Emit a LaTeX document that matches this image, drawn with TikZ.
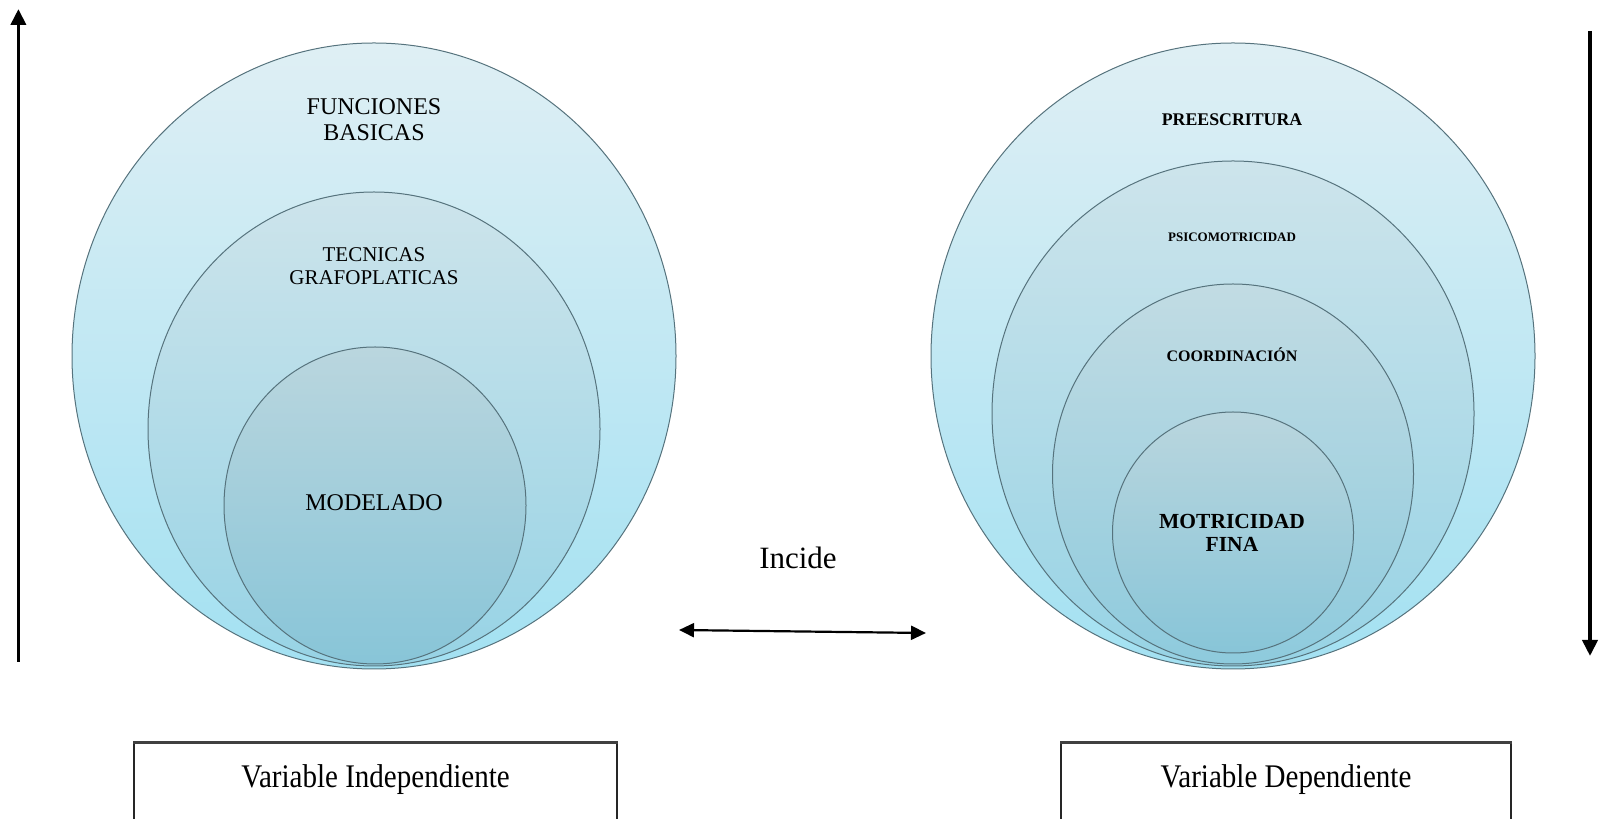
\documentclass[tikz,border=0pt]{standalone}
\usepackage{fontspec}
\setmainfont{Liberation Serif}
\usetikzlibrary{shapes.geometric,arrows.meta}
\definecolor{outA}{HTML}{DFEFF4}
\definecolor{outB}{HTML}{A3E1F2}
\definecolor{midA}{HTML}{CDE4EB}
\definecolor{midB}{HTML}{97D3E5}
\definecolor{inA}{HTML}{BAD6DE}
\definecolor{inB}{HTML}{88C5D8}
\definecolor{ringline}{HTML}{56737D}
\tikzset{
  ring/.style={ellipse, draw=ringline, line width=1pt, inner sep=0pt},
  lbl/.style={align=center, inner sep=0pt, text=black},
  varbox/.style={rectangle, draw=black!85, line width=1.4pt, minimum width=483pt, minimum height=76pt, inner sep=0pt},
  bigarrow/.style={line width=3.8pt, -{Triangle[length=16pt,width=15pt]}},
  linkarrow/.style={line width=2.2pt, {Triangle[length=15pt,width=14pt]}-{Triangle[length=15pt,width=14pt]}}
}
\begin{document}
\begin{tikzpicture}[x=1pt,y=1pt]
\useasboundingbox (0,0) rectangle (1601,819);
% left rings
\node[ring, minimum width=604pt, minimum height=626pt, top color=outA, bottom color=outB] (L1) at (374,463) {};
\node[ring, minimum width=452pt, minimum height=474pt, top color=midA, bottom color=midB] (L2) at (374,390) {};
\node[ring, minimum width=302pt, minimum height=317pt, top color=inA, bottom color=inB] (L3) at (375,313.5) {};
% right rings
\node[ring, minimum width=604pt, minimum height=626pt, top color=outA, bottom color=outB] (R1) at (1233,463) {};
\node[ring, minimum width=482pt, minimum height=505pt, top color=midA, bottom color=midB] (R2) at (1233,405.5) {};
\node[ring, minimum width=361pt, minimum height=380pt, top color=inA!60!midA, bottom color=inB!60!midB] (R3) at (1233,345) {};
\node[ring, minimum width=241pt, minimum height=241pt, top color=inA, bottom color=inB] (R4) at (1233,286.5) {};
% labels
\node[lbl, font=\fontsize{24}{26}\selectfont] (tFun) at (374,699) {FUNCIONES\\BASICAS};
\node[lbl, font=\fontsize{21}{23}\selectfont] (tTec) at (374,553) {TECNICAS\\GRAFOPLATICAS};
\node[lbl, font=\fontsize{24}{26}\selectfont] (tMod) at (374,316) {MODELADO};
\node[lbl, font=\fontsize{17.8}{20}\selectfont\bfseries] (tPre) at (1232,699.5) {PREESCRITURA};
\node[lbl, font=\fontsize{13}{15}\selectfont\bfseries] (tPsi) at (1232,582) {PSICOMOTRICIDAD};
\node[lbl, font=\fontsize{16}{18}\selectfont\bfseries] (tCoo) at (1232,464) {COORDINACIÓN};
\node[lbl, font=\fontsize{21.5}{22.5}\selectfont\bfseries] (tMot) at (1232,286) {MOTRICIDAD\\FINA};
% side arrows
\coordinate (la0) at (18.4,157);
\coordinate (la1) at (18.4,810);
\draw[bigarrow] (la0) -- (la1);
\coordinate (ra0) at (1590,788);
\coordinate (ra1) at (1590,163);
\draw[bigarrow] (ra0) -- (ra1);
% link
\node[lbl, font=\fontsize{31}{33}\selectfont] (inc) at (798,261) {Incide};
\coordinate (lk0) at (679,189);
\coordinate (lk1) at (926,186);
\draw[linkarrow] (lk0) -- (lk1);
% variable boxes
\node[varbox] (vi) at (375.5,37.5) {\raisebox{11pt}{\scalebox{0.88}[1]{\fontsize{33}{35}\selectfont Variable Independiente}}};
\node[varbox, minimum width=450pt] (vd) at (1286,37.5) {\raisebox{11pt}{\scalebox{0.88}[1]{\fontsize{33}{35}\selectfont Variable Dependiente}}};
\draw[line width=2.6pt, draw=black!75] (vi.north west) -- (vi.north east);
\draw[line width=2.6pt, draw=black!75] (vd.north west) -- (vd.north east);
\end{tikzpicture}
\end{document}
